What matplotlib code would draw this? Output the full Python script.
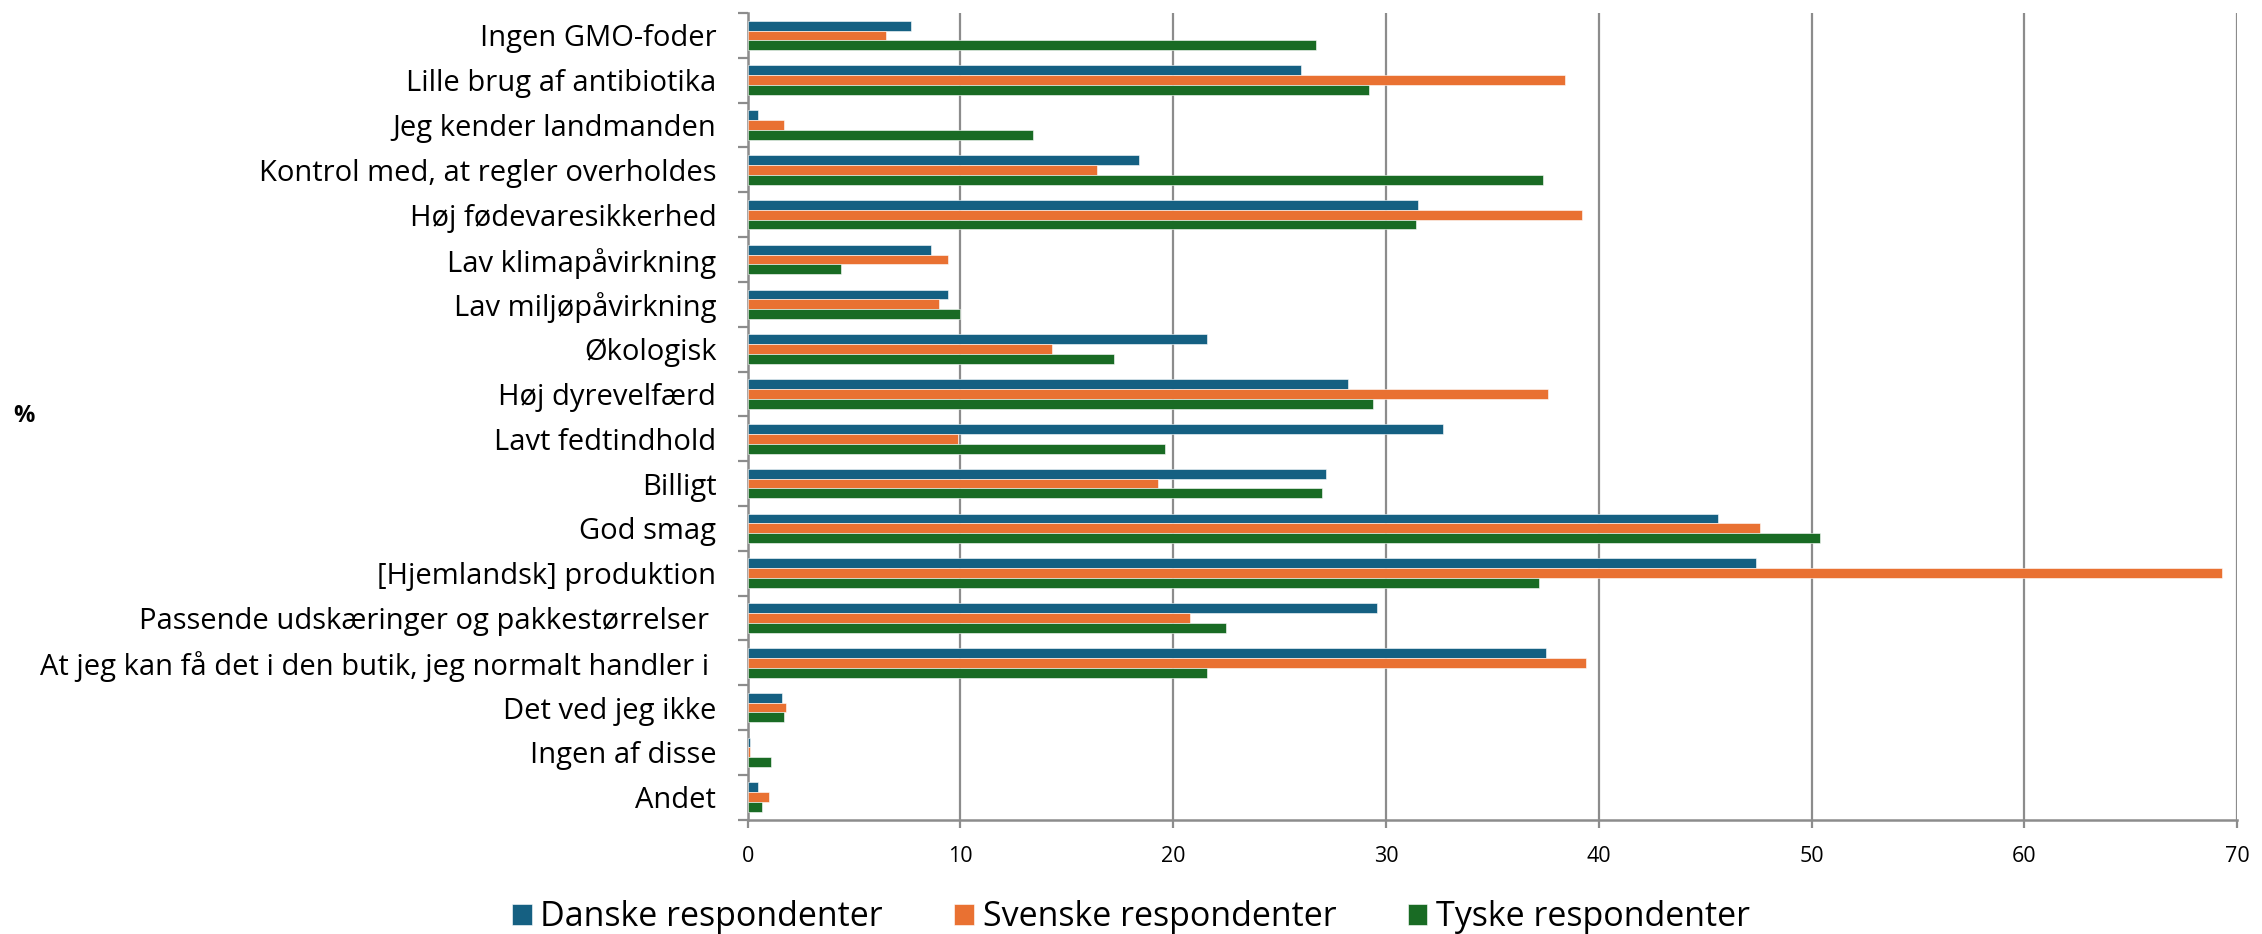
import numpy as np
import matplotlib
matplotlib.use("Agg")
import matplotlib.pyplot as plt

# Data (percent)
categories = [
    "Ingen GMO-foder",
    "Lille brug af antibiotika",
    "Jeg kender landmanden",
    "Kontrol med, at regler overholdes",
    "Høj fødevaresikkerhed",
    "Lav klimapåvirkning",
    "Lav miljøpåvirkning",
    "Økologisk",
    "Høj dyrevelfærd",
    "Lavt fedtindhold",
    "Billigt",
    "God smag",
    "[Hjemlandsk] produktion",
    "Passende udskæringer og pakkestørrelser ",
    "At jeg kan få det i den butik, jeg normalt handler i ",
    "Det ved jeg ikke",
    "Ingen af disse",
    "Andet",
]
danske = [7.7, 26.0, 0.5, 18.4, 31.5, 8.6, 9.4, 21.6, 28.2, 32.7, 27.2,
          45.6, 47.4, 29.6, 37.5, 1.6, 0.1, 0.5]
svenske = [6.5, 38.4, 1.7, 16.4, 39.2, 9.4, 9.0, 14.3, 37.6, 9.9, 19.3,
           47.6, 69.3, 20.8, 39.4, 1.8, 0.1, 1.0]
tyske = [26.7, 29.2, 13.4, 37.4, 31.4, 4.4, 10.0, 17.2, 29.4, 19.6, 27.0,
         50.4, 37.2, 22.5, 21.6, 1.7, 1.1, 0.7]
series_names = ["Danske respondenter", "Svenske respondenter", "Tyske respondenter"]
colors = ["#156082", "#E97132", "#196B24"]
x_ticks = [0, 10, 20, 30, 40, 50, 60, 70]

plt.rcParams['font.family'] = ['Open Sans', 'DejaVu Sans']

fig = plt.figure(figsize=(22.62, 9.34), dpi=100)
ax = fig.add_axes([0.3305, 0.1225, 0.989 - 0.3305, 0.986 - 0.1225])

y = np.arange(len(categories))
bh = 0.22
for k, (vals, name, col) in enumerate(zip([danske, svenske, tyske], series_names, colors)):
    ax.barh(y + (k - 1) * bh, vals, height=bh, color=col, label=name,
            edgecolor="white", linewidth=0.4, zorder=3)

ax.set_ylim(len(categories) - 0.5, -0.5)
ax.set_xlim(0, 70)
ax.set_xticks(x_ticks)
ax.set_yticks(y)
ax.set_yticklabels(categories, fontsize=21)
ax.set_yticks(np.arange(len(categories) + 1) - 0.5, minor=True)

grid_col = "#8c8c8c"
ax.grid(axis="x", color=grid_col, linewidth=1.6, zorder=0)
for s in ["top", "right"]:
    ax.spines[s].set_visible(False)
for s in ["left", "bottom"]:
    ax.spines[s].set_color(grid_col)
    ax.spines[s].set_linewidth(1.8)

ax.tick_params(axis="y", which="major", length=0, pad=22.5)
ax.tick_params(axis="y", which="minor", length=7, width=1.6, color=grid_col)
ax.tick_params(axis="x", which="major", length=6, width=1.6, color=grid_col,
               labelsize=15.5, pad=13)

fig.text(0.0058, (0.1225 + 0.986) / 2, "%", fontsize=17, fontweight="bold",
         ha="left", va="center")

ax.legend(loc="center", bbox_to_anchor=(0.5, 0.018), bbox_transform=fig.transFigure,
          ncol=3, frameon=False, fontsize=24.5, handlelength=0.58, handleheight=0.58,
          handletextpad=0.25, columnspacing=2.1)

fig.savefig("out.png", dpi=100)
